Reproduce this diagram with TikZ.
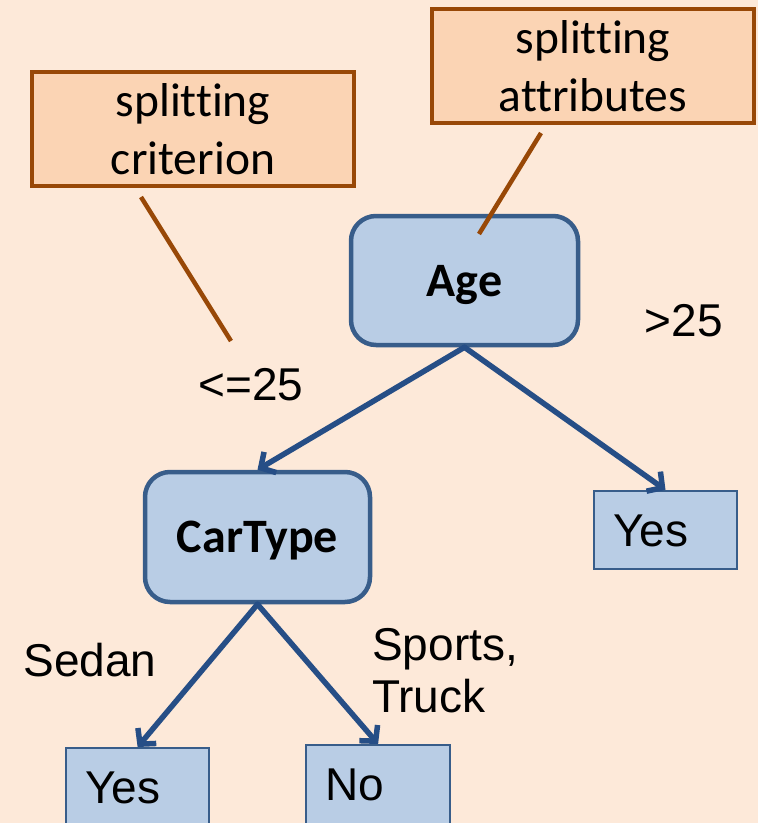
\documentclass[tikz,border=0pt]{standalone}
\usepackage{fontspec}
\setmainfont{Carlito}[Ligatures=NoCommon]
\newfontfamily\arialfont{Liberation Sans}
\usetikzlibrary{arrows.meta}
\definecolor{bgpeach}{HTML}{FDE9D9}
\definecolor{calloutfill}{HTML}{FBD4B4}
\definecolor{calloutline}{HTML}{984807}
\definecolor{nodefill}{HTML}{B9CDE5}
\definecolor{nodeline}{HTML}{385D8A}
\definecolor{arrowblue}{HTML}{264E86}
\tikzset{
  callout/.style={draw=calloutline, fill=calloutfill, line width=4.5pt, minimum width=322pt, minimum height=114pt, align=center, inner sep=0pt, font=\fontsize{47.5}{58}\selectfont},
  testnode/.style={draw=nodeline, fill=nodefill, line width=4.5pt, rounded corners=25pt, inner sep=0pt, text height=31pt, text depth=0pt, font=\fontsize{48}{56}\selectfont\bfseries},
  leafbox/.style={draw=nodeline, fill=nodefill, line width=2.2pt, inner ysep=0pt, inner xsep=19pt, align=left, font=\arialfont\fontsize{46}{52}\selectfont},
  edgelabel/.style={inner sep=0pt, font=\arialfont\fontsize{46}{52}\selectfont},
  branch/.style={draw=arrowblue, line width=5.5pt, line cap=round, -{Straight Barb[length=11pt,width=24pt,line width=5.5pt]}},
  pointer/.style={draw=calloutline, line width=4.5pt}
}
\begin{document}
\begin{tikzpicture}[x=1pt,y=-1pt]
\fill[bgpeach] (0,0) rectangle (758,823);
\useasboundingbox (0,0) rectangle (758,823);
\clip (0,0) rectangle (758,823);
% callouts
\node[callout] (crit) at (193,129) {splitting\\criterion};
\node[callout] (attr) at (593,66) {splitting\\attributes};
% internal nodes
\node[testnode, minimum width=227pt, minimum height=129pt] (age) at (464.5,280.5) {Age};
\node[testnode, minimum width=225pt, minimum height=130pt] (car) at (257.5,537) {CarType};
% leaves
\node[leafbox, text width=105pt, minimum height=78pt, text height=33pt, text depth=0pt] (yesR) at (665.5,530) {Yes};
\node[leafbox, anchor=north west, text width=105pt, inner ysep=21pt, text height=34pt, text depth=30pt] (yesL) at (65,747) {Yes};
\node[leafbox, anchor=north west, text width=106pt, inner ysep=21pt, text height=34pt, text depth=30pt] (no) at (305,744) {No};
% callout pointers
\coordinate (critA) at (141,197);
\coordinate (critB) at (231,341);
\coordinate (attrA) at (541,133);
\coordinate (attrB) at (479,234);
\draw[pointer] (critA) -- (critB);
\draw[pointer] (attrA) -- (attrB);
% branches
\draw[branch] (age.south) -- (car.north);
\draw[branch] (age.south) -- (yesR.north);
\draw[branch] (car.south) -- (yesL.north);
\draw[branch] (car.south) -- (no.north);
% branch labels
\node[edgelabel] (lle) at (251,385) {<=25};
\node[edgelabel] (lgt) at (684,321) {>25};
\node[edgelabel] (lsedan) at (90,660) {Sedan};
\node[edgelabel, align=left, anchor=west] (lsports) at (372,671) {Sports,\\Truck};
\end{tikzpicture}
\end{document}
